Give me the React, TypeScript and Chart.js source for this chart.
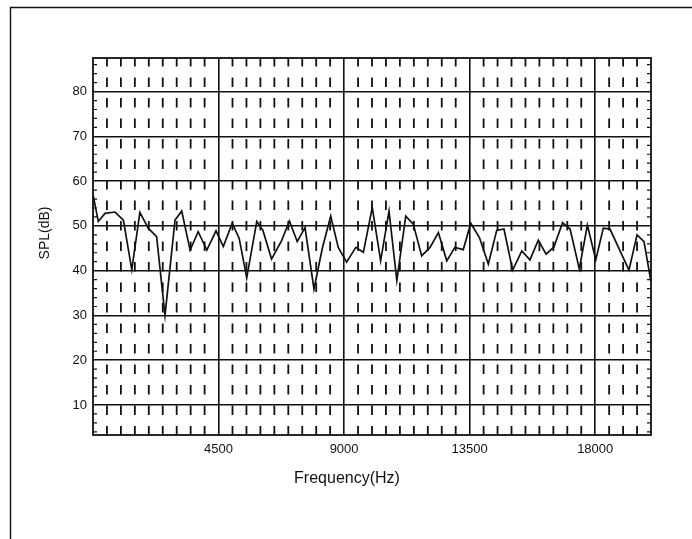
import { useEffect, useRef } from "react";
import { Chart, registerables } from "chart.js";

Chart.register(...registerables);

// ---- data ----
const freqHz = [
  0, 190, 430, 790, 1090, 1390, 1680, 1980, 2280, 2580,
  2940, 3180, 3480, 3770, 4080, 4410, 4670, 4990, 5240, 5510,
  5870, 6090, 6400, 6760, 7040, 7320, 7600, 7920, 8220, 8520,
  8790, 9090, 9420, 9690, 10010, 10310, 10610, 10890, 11210, 11480,
  11780, 12080, 12380, 12680, 12970, 13270, 13540, 13850, 14170, 14470,
  14730, 15040, 15370, 15660, 15960, 16240, 16520, 16830, 17100, 17430,
  17720, 18020, 18290, 18530, 19210, 19500, 19750, 20000,
];
const splDb = [
  57, 51, 52.8, 53.1, 51.3, 40.2, 53, 49.5, 47.6, 30,
  51.3, 53.3, 44.6, 48.7, 44.6, 48.9, 45.4, 50.6, 47.2, 38.4,
  51, 49, 42.6, 46.7, 51.1, 46.5, 49.6, 35.9, 45, 52.2,
  45.2, 41.9, 45.2, 44.1, 54.1, 42.2, 53.3, 37.8, 52.2, 50.4,
  43.3, 45.2, 48.5, 42.2, 45.2, 44.7, 50.6, 47.4, 41.5, 49,
  49.3, 40.1, 44.4, 42.4, 46.8, 43.7, 45.3, 50.7, 49.3, 40.4,
  50.2, 42.4, 49.5, 49.3, 40.1, 48, 46.5, 37.5,
];
const xTickValues = [4500, 9000, 13500, 18000];
const yTickValues = [10, 20, 30, 40, 50, 60, 70, 80];
const X_MIN = 0;
const X_MAX = 20000;
const Y_MIN = 3.3;
const Y_MAX = 87.5;
const X_MINOR_STEP = 500;
const X_MAJOR_STEP = 4500;
const Y_MINOR_STEP = 2;
const Y_MAJOR_STEP = 10;
const xTitle = "Frequency(Hz)";
const yTitle = "SPL(dB)";

const FONT = '"Liberation Sans", Arial, Helvetica, sans-serif';
const INK = "#111";

const decor = {
  id: "decor",
  beforeDatasetsDraw(chart: any) {
    const { ctx, chartArea: a, scales } = chart;
    const x = scales.x;
    const y = scales.y;
    ctx.save();
    ctx.beginPath();
    ctx.rect(a.left, a.top, a.right - a.left, a.bottom - a.top);
    ctx.clip();
    ctx.strokeStyle = INK;
    ctx.lineWidth = 1.8;
    ctx.setLineDash([9.5, 11]);
    for (let f = X_MIN + X_MINOR_STEP; f < X_MAX; f += X_MINOR_STEP) {
      if (f % X_MAJOR_STEP === 0) continue;
      const px = x.getPixelForValue(f);
      ctx.beginPath();
      ctx.moveTo(px, a.top - 1);
      ctx.lineTo(px, a.bottom);
      ctx.stroke();
    }
    ctx.setLineDash([]);
    ctx.lineWidth = 1.2;
    for (let v = Math.ceil(Y_MIN / Y_MINOR_STEP) * Y_MINOR_STEP; v < Y_MAX; v += Y_MINOR_STEP) {
      if (v % Y_MAJOR_STEP === 0) continue;
      const py = y.getPixelForValue(v);
      ctx.beginPath();
      ctx.moveTo(a.left, py);
      ctx.lineTo(a.left + 4, py);
      ctx.moveTo(a.right, py);
      ctx.lineTo(a.right - 4, py);
      ctx.stroke();
    }
    ctx.restore();
  },
  afterDraw(chart: any) {
    const { ctx, chartArea: a } = chart;
    ctx.save();
    ctx.strokeStyle = INK;
    ctx.lineWidth = 1.8;
    ctx.strokeRect(a.left, a.top, a.right - a.left, a.bottom - a.top);
    // page frame (top and left edges)
    ctx.lineWidth = 1.4;
    ctx.beginPath();
    ctx.moveTo(10.5, chart.height);
    ctx.lineTo(10.5, 7.5);
    ctx.lineTo(chart.width, 7.5);
    ctx.stroke();
    // axis titles
    ctx.fillStyle = INK;
    ctx.textAlign = "center";
    ctx.textBaseline = "middle";
    ctx.font = `16px ${FONT}`;
    ctx.fillText(xTitle, 347, 479);
    ctx.translate(45, 233);
    ctx.rotate(-Math.PI / 2);
    ctx.font = `14px ${FONT}`;
    ctx.fillText(yTitle, 0, 0);
    ctx.restore();
  },
};

export default function App() {
  const ref = useRef<HTMLCanvasElement | null>(null);
  useEffect(() => {
    if (!ref.current) return;
    const chart = new Chart(ref.current, {
      type: "line",
      data: {
        datasets: [
          {
            data: freqHz.map((f, i) => ({ x: f, y: splDb[i] })),
            borderColor: INK,
            borderWidth: 1.7,
            pointRadius: 0,
            tension: 0,
            fill: false,
          },
        ],
      },
      options: {
        animation: false,
        responsive: false,
        devicePixelRatio: 1,
        layout: { padding: { left: 0, top: 58, right: 41, bottom: 64 } },
        plugins: { legend: { display: false }, tooltip: { enabled: false } },
        scales: {
          x: {
            type: "linear",
            min: X_MIN,
            max: X_MAX,
            afterBuildTicks: (s: any) => {
              s.ticks = xTickValues.map((v) => ({ value: v }));
            },
            afterFit: (s: any) => {
              s.height = 40;
            },
            ticks: {
              autoSkip: false,
              maxRotation: 0,
              padding: 7,
              color: INK,
              font: { family: FONT, size: 13 },
              callback: (v: any) => String(v),
            },
            grid: { color: INK, lineWidth: 1.6, drawTicks: false },
            border: { display: false },
          },
          y: {
            type: "linear",
            min: Y_MIN,
            max: Y_MAX,
            afterBuildTicks: (s: any) => {
              s.ticks = yTickValues.map((v) => ({ value: v }));
            },
            afterFit: (s: any) => {
              s.width = 93;
            },
            ticks: {
              autoSkip: false,
              padding: 6,
              color: INK,
              font: { family: FONT, size: 13 },
              callback: (v: any) => String(v),
            },
            grid: { color: INK, lineWidth: 1.6, drawTicks: false },
            border: { display: false },
          },
        },
      },
      plugins: [decor],
    });
    return () => chart.destroy();
  }, []);
  return (
    <div
      style={{
        position: "fixed",
        left: 0,
        top: 0,
        width: 692,
        height: 539,
        background: "#fff",
      }}
    >
      <canvas ref={ref} width={692} height={539} style={{ display: "block" }} />
    </div>
  );
}
